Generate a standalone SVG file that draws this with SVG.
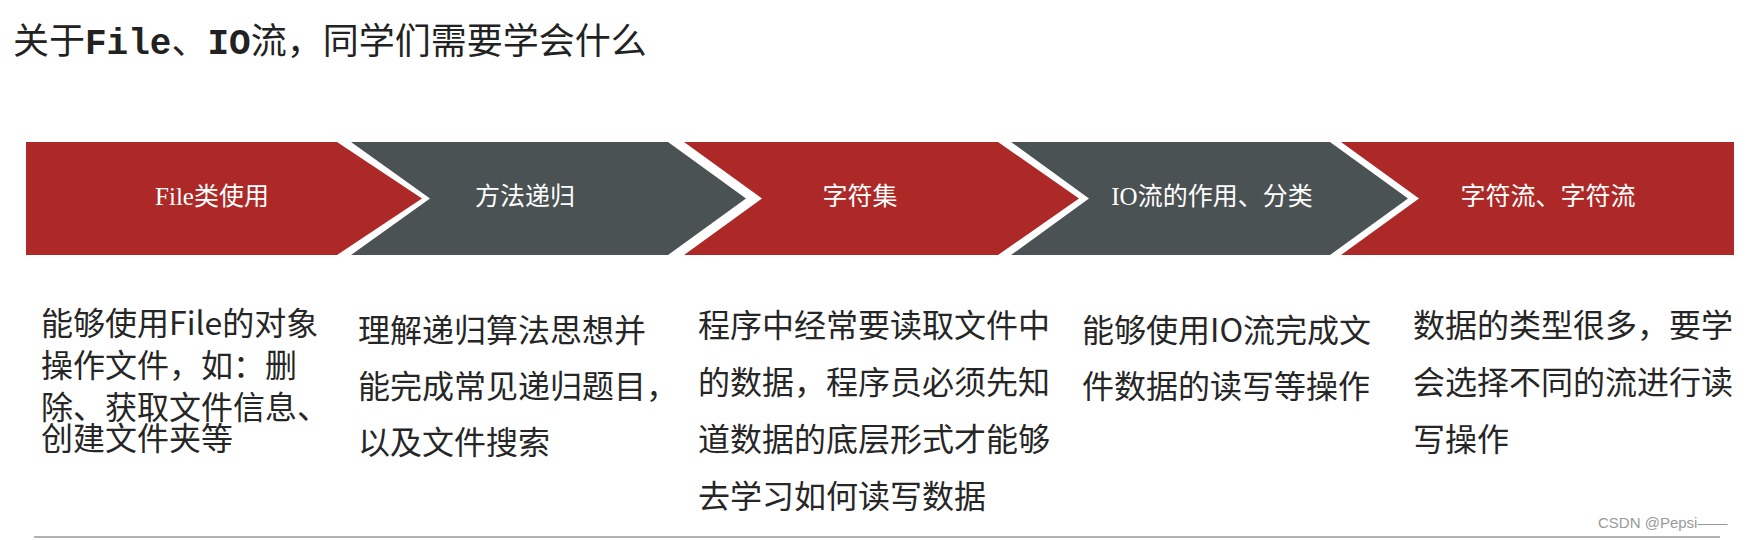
<svg xmlns="http://www.w3.org/2000/svg" width="1752" height="540" viewBox="0 0 1752 540">
<style>
.r{fill:#ad2927}.g{fill:#4b5253}
.lab{font-family:"Liberation Serif","Noto Sans CJK SC",serif;font-size:25px;fill:#fff;text-anchor:middle;dominant-baseline:middle}
.body{font-family:"Noto Sans CJK SC",sans-serif;font-size:32px;fill:#262626}
</style>
<rect width="1752" height="540" fill="#fff"/>
<text x="13" y="54" font-family="Liberation Serif,Noto Sans CJK SC,serif" font-size="36" fill="#222">关于<tspan font-family="Liberation Mono,monospace" font-weight="bold">File</tspan>、<tspan font-family="Liberation Mono,monospace" font-weight="bold">IO</tspan>流，同学们需要学会什么</text>
<g id="n1"><polygon class="r" points="26,142 337,142 422,198.5 337,255 26,255"/><text class="lab" x="212" y="199">File类使用</text></g>
<g id="n2"><polygon class="g" points="351,142 668,142 746,198.5 668,255 351,255 430,198.5"/><text class="lab" x="525" y="199">方法递归</text></g>
<g id="n3"><polygon class="r" points="684,142 998,142 1079,198.5 998,255 684,255 762,198.5"/><text class="lab" x="860" y="199">字符集</text></g>
<g id="n4"><polygon class="g" points="1011,142 1330,142 1408,198.5 1330,255 1011,255 1089,198.5"/><text class="lab" x="1212" y="199">IO流的作用、分类</text></g>
<g id="n5"><polygon class="r" points="1341,142 1734,142 1734,255 1341,255 1419,198.5"/><text class="lab" x="1548" y="199">字符流、字符流</text></g>
<g id="connectors"></g>
<g id="t1" class="body"><text x="41" y="335">能够使用File的对象</text><text x="41" y="377">操作文件，如：删</text><text x="41" y="419">除、获取文件信息、</text><text x="41" y="450">创建文件夹等</text></g>
<g id="t2" class="body"><text x="358" y="342">理解递归算法思想并</text><text x="358" y="398">能完成常见递归题目，</text><text x="358" y="454">以及文件搜索</text></g>
<g id="t3" class="body"><text x="698" y="337">程序中经常要读取文件中</text><text x="698" y="394">的数据，程序员必须先知</text><text x="698" y="451">道数据的底层形式才能够</text><text x="698" y="508">去学习如何读写数据</text></g>
<g id="t4" class="body"><text x="1082" y="342">能够使用IO流完成文</text><text x="1082" y="398">件数据的读写等操作</text></g>
<g id="t5" class="body"><text x="1413" y="337">数据的类型很多，要学</text><text x="1413" y="394">会选择不同的流进行读</text><text x="1413" y="451">写操作</text></g>
<line x1="34" y1="537" x2="1720" y2="537" stroke="#999" stroke-width="1.5"/>
<text x="1598" y="528" font-family="Liberation Sans,sans-serif" font-size="15" fill="#999">CSDN @Pepsi——</text>
</svg>
